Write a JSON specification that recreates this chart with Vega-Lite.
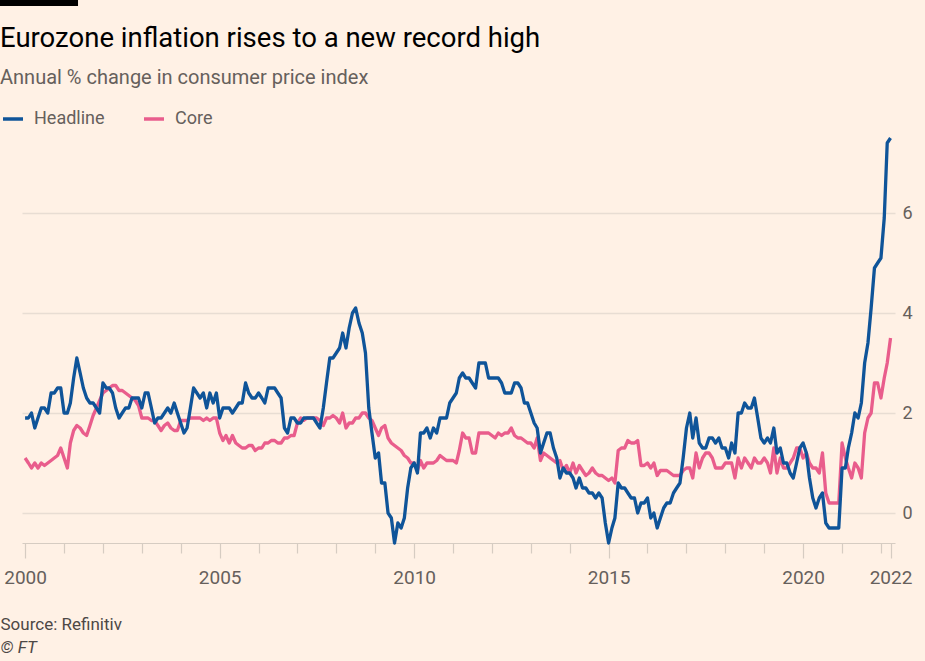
{
  "$schema": "https://vega.github.io/schema/vega-lite/v6.json",
  "width": 873,
  "height": 410,
  "autosize": {"type": "none"},
  "padding": {"left": 22, "top": 133, "right": 30, "bottom": 118},
  "background": "#fff1e5",
  "config": {"view": {"stroke": null}, "font": "Roboto"},
  "title": {
    "text": "Eurozone inflation rises to a new record high",
    "subtitle": "Annual % change in consumer price index",
    "anchor": "start",
    "frame": "group",
    "dx": -22,
    "offset": -88,
    "font": "Roboto",
    "fontSize": 27.5,
    "fontWeight": "normal",
    "color": "#000000",
    "subtitleFont": "Roboto",
    "subtitleFontSize": 20,
    "subtitleColor": "#66605c",
    "subtitlePadding": 16
  },
  "resolve": {"axis": {"x": "independent"}},
  "datasets": {
    "cpi": [
      {"date":"2000-01","Headline":1.9,"Core":1.1},{"date":"2000-02","Headline":1.9,"Core":1.0},{"date":"2000-03","Headline":2.0,"Core":0.9},{"date":"2000-04","Headline":1.7,"Core":1.0},{"date":"2000-05","Headline":1.9,"Core":0.9},{"date":"2000-06","Headline":2.1,"Core":1.0},{"date":"2000-07","Headline":2.1,"Core":0.95},{"date":"2000-08","Headline":2.0,"Core":1.0},{"date":"2000-09","Headline":2.4,"Core":1.05},{"date":"2000-10","Headline":2.4,"Core":1.1},{"date":"2000-11","Headline":2.5,"Core":1.15},{"date":"2000-12","Headline":2.5,"Core":1.3},
      {"date":"2001-01","Headline":2.0,"Core":1.1},{"date":"2001-02","Headline":2.0,"Core":0.9},{"date":"2001-03","Headline":2.2,"Core":1.4},{"date":"2001-04","Headline":2.7,"Core":1.65},{"date":"2001-05","Headline":3.1,"Core":1.75},{"date":"2001-06","Headline":2.8,"Core":1.7},{"date":"2001-07","Headline":2.5,"Core":1.6},{"date":"2001-08","Headline":2.3,"Core":1.55},{"date":"2001-09","Headline":2.2,"Core":1.75},{"date":"2001-10","Headline":2.2,"Core":1.95},{"date":"2001-11","Headline":2.1,"Core":2.1},{"date":"2001-12","Headline":2.0,"Core":2.25},
      {"date":"2002-01","Headline":2.6,"Core":2.4},{"date":"2002-02","Headline":2.5,"Core":2.45},{"date":"2002-03","Headline":2.5,"Core":2.5},{"date":"2002-04","Headline":2.4,"Core":2.55},{"date":"2002-05","Headline":2.1,"Core":2.55},{"date":"2002-06","Headline":1.9,"Core":2.45},{"date":"2002-07","Headline":2.0,"Core":2.45},{"date":"2002-08","Headline":2.1,"Core":2.4},{"date":"2002-09","Headline":2.1,"Core":2.35},{"date":"2002-10","Headline":2.3,"Core":2.3},{"date":"2002-11","Headline":2.3,"Core":2.25},{"date":"2002-12","Headline":2.3,"Core":2.15},
      {"date":"2003-01","Headline":2.1,"Core":1.9},{"date":"2003-02","Headline":2.4,"Core":1.9},{"date":"2003-03","Headline":2.4,"Core":1.9},{"date":"2003-04","Headline":2.1,"Core":1.85},{"date":"2003-05","Headline":1.8,"Core":1.85},{"date":"2003-06","Headline":1.9,"Core":1.75},{"date":"2003-07","Headline":1.9,"Core":1.65},{"date":"2003-08","Headline":2.0,"Core":1.75},{"date":"2003-09","Headline":2.1,"Core":1.8},{"date":"2003-10","Headline":2.0,"Core":1.7},{"date":"2003-11","Headline":2.2,"Core":1.65},{"date":"2003-12","Headline":2.0,"Core":1.65},
      {"date":"2004-01","Headline":1.8,"Core":1.85},{"date":"2004-02","Headline":1.6,"Core":1.85},{"date":"2004-03","Headline":1.7,"Core":1.85},{"date":"2004-04","Headline":2.1,"Core":1.9},{"date":"2004-05","Headline":2.5,"Core":1.9},{"date":"2004-06","Headline":2.4,"Core":1.9},{"date":"2004-07","Headline":2.3,"Core":1.9},{"date":"2004-08","Headline":2.4,"Core":1.85},{"date":"2004-09","Headline":2.1,"Core":1.9},{"date":"2004-10","Headline":2.4,"Core":1.85},{"date":"2004-11","Headline":2.2,"Core":1.9},{"date":"2004-12","Headline":2.4,"Core":1.9},
      {"date":"2005-01","Headline":1.9,"Core":1.6},{"date":"2005-02","Headline":2.1,"Core":1.45},{"date":"2005-03","Headline":2.1,"Core":1.55},{"date":"2005-04","Headline":2.1,"Core":1.4},{"date":"2005-05","Headline":2.0,"Core":1.55},{"date":"2005-06","Headline":2.1,"Core":1.4},{"date":"2005-07","Headline":2.2,"Core":1.35},{"date":"2005-08","Headline":2.2,"Core":1.3},{"date":"2005-09","Headline":2.6,"Core":1.3},{"date":"2005-10","Headline":2.4,"Core":1.35},{"date":"2005-11","Headline":2.3,"Core":1.35},{"date":"2005-12","Headline":2.3,"Core":1.25},
      {"date":"2006-01","Headline":2.4,"Core":1.3},{"date":"2006-02","Headline":2.3,"Core":1.3},{"date":"2006-03","Headline":2.2,"Core":1.4},{"date":"2006-04","Headline":2.5,"Core":1.4},{"date":"2006-05","Headline":2.5,"Core":1.45},{"date":"2006-06","Headline":2.5,"Core":1.45},{"date":"2006-07","Headline":2.4,"Core":1.4},{"date":"2006-08","Headline":2.3,"Core":1.4},{"date":"2006-09","Headline":1.7,"Core":1.5},{"date":"2006-10","Headline":1.6,"Core":1.5},{"date":"2006-11","Headline":1.9,"Core":1.55},{"date":"2006-12","Headline":1.9,"Core":1.55},
      {"date":"2007-01","Headline":1.8,"Core":1.8},{"date":"2007-02","Headline":1.8,"Core":1.9},{"date":"2007-03","Headline":1.9,"Core":1.85},{"date":"2007-04","Headline":1.9,"Core":1.9},{"date":"2007-05","Headline":1.9,"Core":1.9},{"date":"2007-06","Headline":1.9,"Core":1.9},{"date":"2007-07","Headline":1.8,"Core":1.9},{"date":"2007-08","Headline":1.7,"Core":1.85},{"date":"2007-09","Headline":2.1,"Core":1.75},{"date":"2007-10","Headline":2.6,"Core":1.9},{"date":"2007-11","Headline":3.1,"Core":1.9},{"date":"2007-12","Headline":3.1,"Core":1.95},
      {"date":"2008-01","Headline":3.2,"Core":1.9},{"date":"2008-02","Headline":3.3,"Core":1.8},{"date":"2008-03","Headline":3.6,"Core":2.0},{"date":"2008-04","Headline":3.3,"Core":1.7},{"date":"2008-05","Headline":3.7,"Core":1.8},{"date":"2008-06","Headline":4.0,"Core":1.8},{"date":"2008-07","Headline":4.1,"Core":1.9},{"date":"2008-08","Headline":3.8,"Core":1.9},{"date":"2008-09","Headline":3.6,"Core":2.0},{"date":"2008-10","Headline":3.2,"Core":2.0},{"date":"2008-11","Headline":2.1,"Core":1.9},{"date":"2008-12","Headline":1.6,"Core":1.85},
      {"date":"2009-01","Headline":1.1,"Core":1.7},{"date":"2009-02","Headline":1.2,"Core":1.55},{"date":"2009-03","Headline":0.6,"Core":1.7},{"date":"2009-04","Headline":0.6,"Core":1.75},{"date":"2009-05","Headline":0.0,"Core":1.5},{"date":"2009-06","Headline":-0.1,"Core":1.4},{"date":"2009-07","Headline":-0.6,"Core":1.35},{"date":"2009-08","Headline":-0.2,"Core":1.3},{"date":"2009-09","Headline":-0.3,"Core":1.25},{"date":"2009-10","Headline":-0.1,"Core":1.15},{"date":"2009-11","Headline":0.5,"Core":1.1},{"date":"2009-12","Headline":0.9,"Core":1.0},
      {"date":"2010-01","Headline":1.0,"Core":1.0},{"date":"2010-02","Headline":0.8,"Core":0.85},{"date":"2010-03","Headline":1.6,"Core":1.05},{"date":"2010-04","Headline":1.6,"Core":0.9},{"date":"2010-05","Headline":1.7,"Core":1.0},{"date":"2010-06","Headline":1.5,"Core":1.0},{"date":"2010-07","Headline":1.7,"Core":1.0},{"date":"2010-08","Headline":1.6,"Core":1.05},{"date":"2010-09","Headline":1.9,"Core":1.15},{"date":"2010-10","Headline":1.9,"Core":1.1},{"date":"2010-11","Headline":1.9,"Core":1.05},{"date":"2010-12","Headline":2.2,"Core":1.05},
      {"date":"2011-01","Headline":2.3,"Core":1.05},{"date":"2011-02","Headline":2.4,"Core":1.0},{"date":"2011-03","Headline":2.7,"Core":1.25},{"date":"2011-04","Headline":2.8,"Core":1.6},{"date":"2011-05","Headline":2.7,"Core":1.5},{"date":"2011-06","Headline":2.7,"Core":1.5},{"date":"2011-07","Headline":2.6,"Core":1.2},{"date":"2011-08","Headline":2.5,"Core":1.2},{"date":"2011-09","Headline":3.0,"Core":1.6},{"date":"2011-10","Headline":3.0,"Core":1.6},{"date":"2011-11","Headline":3.0,"Core":1.6},{"date":"2011-12","Headline":2.7,"Core":1.6},
      {"date":"2012-01","Headline":2.7,"Core":1.55},{"date":"2012-02","Headline":2.7,"Core":1.5},{"date":"2012-03","Headline":2.7,"Core":1.6},{"date":"2012-04","Headline":2.6,"Core":1.55},{"date":"2012-05","Headline":2.4,"Core":1.6},{"date":"2012-06","Headline":2.4,"Core":1.6},{"date":"2012-07","Headline":2.4,"Core":1.7},{"date":"2012-08","Headline":2.6,"Core":1.55},{"date":"2012-09","Headline":2.6,"Core":1.5},{"date":"2012-10","Headline":2.5,"Core":1.5},{"date":"2012-11","Headline":2.2,"Core":1.45},{"date":"2012-12","Headline":2.2,"Core":1.4},
      {"date":"2013-01","Headline":2.0,"Core":1.4},{"date":"2013-02","Headline":1.8,"Core":1.3},{"date":"2013-03","Headline":1.7,"Core":1.5},{"date":"2013-04","Headline":1.2,"Core":1.05},{"date":"2013-05","Headline":1.4,"Core":1.2},{"date":"2013-06","Headline":1.6,"Core":1.15},{"date":"2013-07","Headline":1.6,"Core":1.1},{"date":"2013-08","Headline":1.3,"Core":1.05},{"date":"2013-09","Headline":1.1,"Core":1.0},{"date":"2013-10","Headline":0.7,"Core":1.05},{"date":"2013-11","Headline":0.9,"Core":0.85},{"date":"2013-12","Headline":0.8,"Core":0.95},
      {"date":"2014-01","Headline":0.8,"Core":0.8},{"date":"2014-02","Headline":0.7,"Core":1.0},{"date":"2014-03","Headline":0.5,"Core":0.8},{"date":"2014-04","Headline":0.7,"Core":0.95},{"date":"2014-05","Headline":0.5,"Core":0.85},{"date":"2014-06","Headline":0.5,"Core":0.75},{"date":"2014-07","Headline":0.4,"Core":0.8},{"date":"2014-08","Headline":0.4,"Core":0.9},{"date":"2014-09","Headline":0.3,"Core":0.8},{"date":"2014-10","Headline":0.4,"Core":0.75},{"date":"2014-11","Headline":0.3,"Core":0.75},{"date":"2014-12","Headline":-0.2,"Core":0.7},
      {"date":"2015-01","Headline":-0.6,"Core":0.65},{"date":"2015-02","Headline":-0.3,"Core":0.7},{"date":"2015-03","Headline":-0.1,"Core":0.6},{"date":"2015-04","Headline":0.6,"Core":1.25},{"date":"2015-05","Headline":0.5,"Core":1.3},{"date":"2015-06","Headline":0.5,"Core":1.3},{"date":"2015-07","Headline":0.4,"Core":1.45},{"date":"2015-08","Headline":0.3,"Core":1.4},{"date":"2015-09","Headline":0.3,"Core":1.4},{"date":"2015-10","Headline":0.0,"Core":1.45},{"date":"2015-11","Headline":0.2,"Core":0.95},{"date":"2015-12","Headline":0.2,"Core":0.95},
      {"date":"2016-01","Headline":0.3,"Core":1.0},{"date":"2016-02","Headline":-0.1,"Core":0.9},{"date":"2016-03","Headline":0.0,"Core":1.0},{"date":"2016-04","Headline":-0.3,"Core":0.75},{"date":"2016-05","Headline":-0.1,"Core":0.85},{"date":"2016-06","Headline":0.1,"Core":0.85},{"date":"2016-07","Headline":0.2,"Core":0.85},{"date":"2016-08","Headline":0.2,"Core":0.8},{"date":"2016-09","Headline":0.4,"Core":0.75},{"date":"2016-10","Headline":0.5,"Core":0.75},{"date":"2016-11","Headline":0.6,"Core":0.75},{"date":"2016-12","Headline":1.1,"Core":0.85},
      {"date":"2017-01","Headline":1.7,"Core":0.9},{"date":"2017-02","Headline":2.0,"Core":0.9},{"date":"2017-03","Headline":1.5,"Core":0.7},{"date":"2017-04","Headline":1.9,"Core":1.2},{"date":"2017-05","Headline":1.4,"Core":0.9},{"date":"2017-06","Headline":1.3,"Core":1.1},{"date":"2017-07","Headline":1.3,"Core":1.2},{"date":"2017-08","Headline":1.5,"Core":1.2},{"date":"2017-09","Headline":1.5,"Core":1.1},{"date":"2017-10","Headline":1.4,"Core":0.9},{"date":"2017-11","Headline":1.5,"Core":0.9},{"date":"2017-12","Headline":1.3,"Core":0.9},
      {"date":"2018-01","Headline":1.3,"Core":1.0},{"date":"2018-02","Headline":1.1,"Core":1.0},{"date":"2018-03","Headline":1.4,"Core":1.0},{"date":"2018-04","Headline":1.2,"Core":0.7},{"date":"2018-05","Headline":2.0,"Core":1.1},{"date":"2018-06","Headline":2.0,"Core":0.9},{"date":"2018-07","Headline":2.2,"Core":1.1},{"date":"2018-08","Headline":2.1,"Core":1.0},{"date":"2018-09","Headline":2.1,"Core":0.9},{"date":"2018-10","Headline":2.3,"Core":1.1},{"date":"2018-11","Headline":1.9,"Core":1.0},{"date":"2018-12","Headline":1.5,"Core":1.0},
      {"date":"2019-01","Headline":1.4,"Core":1.1},{"date":"2019-02","Headline":1.5,"Core":1.0},{"date":"2019-03","Headline":1.4,"Core":0.8},{"date":"2019-04","Headline":1.7,"Core":1.3},{"date":"2019-05","Headline":1.2,"Core":0.8},{"date":"2019-06","Headline":1.3,"Core":1.1},{"date":"2019-07","Headline":1.0,"Core":0.9},{"date":"2019-08","Headline":1.0,"Core":0.9},{"date":"2019-09","Headline":0.8,"Core":1.0},{"date":"2019-10","Headline":0.7,"Core":1.1},{"date":"2019-11","Headline":1.0,"Core":1.3},{"date":"2019-12","Headline":1.3,"Core":1.3},
      {"date":"2020-01","Headline":1.4,"Core":1.1},{"date":"2020-02","Headline":1.2,"Core":1.2},{"date":"2020-03","Headline":0.7,"Core":1.0},{"date":"2020-04","Headline":0.3,"Core":0.9},{"date":"2020-05","Headline":0.1,"Core":0.9},{"date":"2020-06","Headline":0.3,"Core":0.8},{"date":"2020-07","Headline":0.4,"Core":1.2},{"date":"2020-08","Headline":-0.2,"Core":0.4},{"date":"2020-09","Headline":-0.3,"Core":0.2},{"date":"2020-10","Headline":-0.3,"Core":0.2},{"date":"2020-11","Headline":-0.3,"Core":0.2},{"date":"2020-12","Headline":-0.3,"Core":0.2},
      {"date":"2021-01","Headline":0.9,"Core":1.4},{"date":"2021-02","Headline":0.9,"Core":1.1},{"date":"2021-03","Headline":1.3,"Core":0.9},{"date":"2021-04","Headline":1.6,"Core":0.7},{"date":"2021-05","Headline":2.0,"Core":1.0},{"date":"2021-06","Headline":1.9,"Core":0.9},{"date":"2021-07","Headline":2.2,"Core":0.7},{"date":"2021-08","Headline":3.0,"Core":1.6},{"date":"2021-09","Headline":3.4,"Core":1.9},{"date":"2021-10","Headline":4.1,"Core":2.0},{"date":"2021-11","Headline":4.9,"Core":2.6},{"date":"2021-12","Headline":5.0,"Core":2.6},
      {"date":"2022-01","Headline":5.1,"Core":2.3},{"date":"2022-02","Headline":5.9,"Core":2.7},{"date":"2022-03","Headline":7.4,"Core":3.0},{"date":"2022-04","Headline":7.5,"Core":3.5}
    ],
    "bar": [{"from": "1999-05-10", "to": "2001-05-12", "level": 10.2}]
  },
  "layer": [
    {
      "data": {"name": "cpi"},
      "mark": {"type": "line", "strokeWidth": 3.3, "strokeJoin": "round"},
      "encoding": {
        "x": {
          "field": "date",
          "type": "temporal",
          "scale": {
            "type": "utc",
            "domain": [
              {"year": 1999, "month": 12, "date": 3, "utc": true},
              {"year": 2022, "month": 5, "date": 13, "utc": true}
            ]
          },
          "axis": {
            "values": [
              {"year": 2000, "utc": true}, {"year": 2001, "utc": true}, {"year": 2002, "utc": true}, {"year": 2003, "utc": true},
              {"year": 2004, "utc": true}, {"year": 2005, "utc": true}, {"year": 2006, "utc": true}, {"year": 2007, "utc": true},
              {"year": 2008, "utc": true}, {"year": 2009, "utc": true}, {"year": 2010, "utc": true}, {"year": 2011, "utc": true},
              {"year": 2012, "utc": true}, {"year": 2013, "utc": true}, {"year": 2014, "utc": true}, {"year": 2015, "utc": true},
              {"year": 2016, "utc": true}, {"year": 2017, "utc": true}, {"year": 2018, "utc": true}, {"year": 2019, "utc": true},
              {"year": 2020, "utc": true}, {"year": 2021, "utc": true}, {"year": 2022, "utc": true},
              {"year": 2022, "month": 4, "date": 1, "utc": true}
            ],
            "labelExpr": "utcmonth(datum.value) == 3 ? '2022' : (utcyear(datum.value) % 5 == 0 ? utcFormat(datum.value, '%Y') : '')",
            "labelOverlap": false,
            "labelFlush": false,
            "labelFont": "Roboto",
            "labelFontSize": 19,
            "labelColor": "#66605c",
            "labelPadding": 10,
            "grid": false,
            "domainColor": "#d6ccc2",
            "domainWidth": 1.2,
            "tickColor": "#d6ccc2",
            "tickWidth": 1.2,
            "tickSize": {"condition": {"test": "utcmonth(datum.value) == 3 || utcyear(datum.value) % 5 == 0", "value": 15}, "value": 10},
            "title": "Source: Refinitiv",
            "titleFont": "Roboto",
            "titleFontSize": 17,
            "titleFontWeight": "normal",
            "titleColor": "#4d4845",
            "titleAlign": "left",
            "titleBaseline": "middle",
            "titleAnchor": "start",
            "titleX": -22,
            "titleY": 81
          }
        },
        "y": {
          "field": "Core",
          "type": "quantitative",
          "scale": {"domain": [-0.6, 7.6], "nice": false, "zero": false},
          "axis": {
            "orient": "right",
            "values": [0, 2, 4, 6],
            "domain": false,
            "ticks": false,
            "grid": true,
            "gridColor": "#e8ddd3",
            "gridWidth": 1.3,
            "labelFont": "Roboto",
            "labelFontSize": 18,
            "labelColor": "#66605c",
            "labelPadding": 7,
            "title": "© FT",
            "titleFont": "Roboto",
            "titleFontSize": 17,
            "titleFontWeight": "normal",
            "titleFontStyle": "italic",
            "titleColor": "#4d4845",
            "titleAngle": 0,
            "titleAlign": "left",
            "titleBaseline": "middle",
            "titleX": -895,
            "titleY": 514
          }
        },
        "color": {
          "datum": "Core",
          "type": "nominal",
          "scale": {"domain": ["Headline", "Core"], "range": ["#0f5499", "#e95d8c"]},
          "legend": {
            "orient": "none",
            "legendX": -21,
            "legendY": -26,
            "direction": "horizontal",
            "title": null,
            "symbolType": "stroke",
            "symbolStrokeWidth": 3.5,
            "symbolSize": 400,
            "labelFont": "Roboto",
            "labelFontSize": 18,
            "labelColor": "#66605c",
            "labelOffset": 9,
            "columnPadding": 32
          }
        }
      }
    },
    {
      "data": {"name": "cpi"},
      "mark": {"type": "line", "strokeWidth": 3.3, "strokeJoin": "round"},
      "encoding": {
        "x": {"field": "date", "type": "temporal", "axis": null},
        "y": {"field": "Headline", "type": "quantitative"},
        "color": {"datum": "Headline", "type": "nominal"}
      }
    },
    {
      "data": {"name": "bar"},
      "mark": {"type": "rule", "strokeWidth": 6, "color": "#000000", "clip": false},
      "encoding": {
        "x": {"field": "from", "type": "temporal", "scale": {"type": "utc"}, "axis": null},
        "x2": {"field": "to"},
        "y": {"field": "level", "type": "quantitative"}
      }
    }
  ]
}
